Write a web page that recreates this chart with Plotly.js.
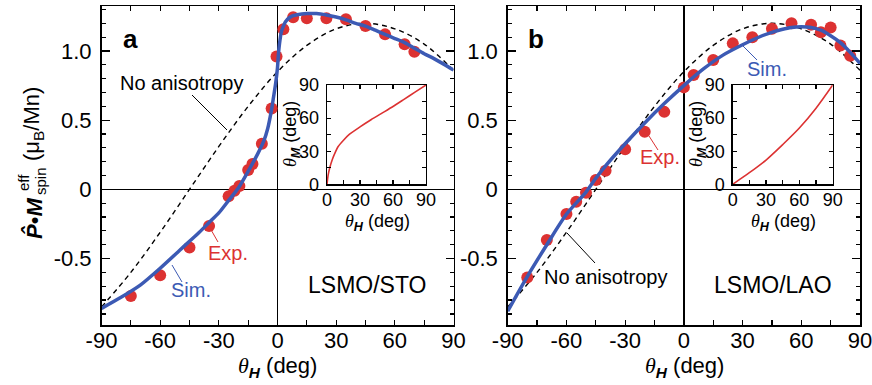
<!DOCTYPE html>
<html><head><meta charset="utf-8">
<script src="https://cdn.plot.ly/plotly-3.0.1.min.js"></script>
<style>html,body{margin:0;padding:0;background:#fff}#c{width:872px;height:385px}</style>
</head><body><div id="c"></div>
<script>
// ---- data ----
// Panel a (LSMO/STO)
const aExpX = [-75, -60, -45, -35, -25, -22, -19.5, -15, -12.8, -8, -3, -0.5, 3, 8, 15, 25, 35, 45, 55, 65, 70];
const aExpY = [-0.77, -0.62, -0.42, -0.265, -0.05, -0.01, 0.025, 0.14, 0.183, 0.33, 0.585, 0.96, 1.157, 1.243, 1.236, 1.236, 1.229, 1.18, 1.12, 1.048, 0.995];
const aSimX = [-90,-80,-70,-60,-50,-45,-40,-35,-30,-25,-20,-15,-10,-7,-5,-3,-2,-1,0,0.5,1,2,3,4,6,8,10,15,20,25,30,35,40,45,50,55,60,65,70,75,80,85,90];
const aSimY = [-0.86,-0.78,-0.69,-0.57,-0.44,-0.375,-0.31,-0.24,-0.17,-0.08,0.01,0.13,0.26,0.35,0.44,0.58,0.67,0.76,0.88,0.98,1.05,1.14,1.18,1.21,1.24,1.255,1.262,1.27,1.27,1.26,1.245,1.225,1.20,1.18,1.15,1.12,1.09,1.06,1.02,0.98,0.945,0.905,0.862];
// Panel b (LSMO/LAO)
const bExpX = [-80, -70, -60, -55, -50, -45, -40, -30, -20, -10, 0, 5, 15, 25, 35, 45, 55, 65, 70, 75, 80, 85];
const bExpY = [-0.636, -0.366, -0.178, -0.089, -0.024, 0.067, 0.135, 0.29, 0.417, 0.56, 0.737, 0.826, 0.935, 1.055, 1.10, 1.16, 1.20, 1.19, 1.135, 1.17, 1.04, 0.966];
const bSimX = [-90,-80,-70,-60,-50,-45,-40,-30,-20,-10,0,10,20,30,40,45,50,55,60,65,70,75,80,85,90];
const bSimY = [-0.88,-0.63,-0.40,-0.18,-0.02,0.08,0.17,0.33,0.48,0.62,0.75,0.87,0.97,1.045,1.11,1.135,1.155,1.17,1.175,1.17,1.15,1.11,1.06,0.99,0.91];
// "No anisotropy" curve (same in both panels)
const noAnisX = [-90,-75,-60,-45,-30,-15,0,15,30,45,60,75,90];
const noAnisY = [-0.85,-0.6,-0.31,0.0,0.31,0.6,0.85,1.04,1.16,1.2,1.16,1.05,0.86];
// Insets: theta_M vs theta_H
const aInX = [0,1,2.5,5,7.5,10,15,20,30,40,50,60,70,80,90];
const aInY = [0,8,15,23,29,34,40,45,52,58.5,64.5,70.5,77,83.5,90];
const bInX = [0,15,30,45,60,75,90];
const bInY = [0,10.5,22,36,51,69,90];
// Tick labels
const mainXTicks = [-90,-60,-30,0,30,60,90];
const mainXText = ['-90','-60','-30','0','30','60','90'];
const mainYTicks = [-0.5,0,0.5,1.0];
const mainYText = ['-0.5','0','0.5','1.0'];
const inTicks = [0,30,60,90];
const inText = ['0','30','60','90'];

// ---- style ----
const W = 872, H = 385;
const RED = '#dc3232', BLUE = '#3c5ab4';
const FONT = 'Liberation Sans, Arial, sans-serif';
const px = (x) => x / W;
const py = (y) => 1 - y / H;

function mainX(domain, anchor){
  return {domain, anchor, range:[-90,90], showline:true, linecolor:'#000', linewidth:1.5, mirror:'allticks',
    ticks:'inside', tickmode:'array', tickvals:mainXTicks, ticktext:mainXText, ticklen:5, tickwidth:1.2, tickcolor:'#000',
    minor:{tickmode:'linear', tick0:0, dtick:15, ticks:'inside', ticklen:5, tickwidth:1.2, tickcolor:'#000'},
    zeroline:true, zerolinecolor:'#000', zerolinewidth:1.5, showgrid:false, ticklabeloverflow:'allow',
    tickfont:{family:FONT, size:22, color:'#000'}, ticklabelstandoff:-5, fixedrange:true};
}
function mainY(anchor){
  return {domain:[1-325/H, 1-6/H], anchor, range:[-0.98,1.325], showline:true, linecolor:'#000', linewidth:1.5, mirror:'allticks',
    ticks:'inside', tickmode:'array', tickvals:mainYTicks, ticktext:mainYText, ticklen:8, tickwidth:1.2, tickcolor:'#000',
    minor:{tickmode:'linear', tick0:0, dtick:0.1, ticks:'inside', ticklen:4, tickwidth:1.2, tickcolor:'#000'},
    zeroline:true, zerolinecolor:'#000', zerolinewidth:1.5, showgrid:false, ticklabeloverflow:'allow',
    tickfont:{family:FONT, size:22, color:'#000'}, ticklabelstandoff:4, fixedrange:true};
}
function inAx(domain, anchor, standoff){
  return {domain, anchor, range:[0,90], showline:true, linecolor:'#000', linewidth:1.3, mirror:'allticks',
    ticks:'inside', tickmode:'array', tickvals:inTicks, ticktext:inText, ticklen:4, tickwidth:1.1, tickcolor:'#000',
    minor:{tickmode:'linear', tick0:0, dtick:15, ticks:'inside', ticklen:4, tickwidth:1.1, tickcolor:'#000'},
    zeroline:false, showgrid:false, tickfont:{family:FONT, size:18, color:'#000'}, ticklabelstandoff:standoff,
    ticklabeloverflow:'allow', fixedrange:true};
}

const dash = {color:'#000', width:1.4, dash:'5px,4px', shape:'spline', smoothing:1};
const traces = [
  {x:noAnisX, y:noAnisY, xaxis:'x', yaxis:'y', mode:'lines', line:dash},
  {x:aExpX, y:aExpY, xaxis:'x', yaxis:'y', mode:'markers', marker:{color:RED, size:12}},
  {x:aSimX, y:aSimY, xaxis:'x', yaxis:'y', mode:'lines', line:{color:BLUE, width:3.5, shape:'spline', smoothing:0.6}},
  {x:noAnisX, y:noAnisY, xaxis:'x2', yaxis:'y2', mode:'lines', line:dash},
  {x:bExpX, y:bExpY, xaxis:'x2', yaxis:'y2', mode:'markers', marker:{color:RED, size:12}},
  {x:bSimX, y:bSimY, xaxis:'x2', yaxis:'y2', mode:'lines', line:{color:BLUE, width:3.5, shape:'spline', smoothing:0.8}},
  {x:aInX, y:aInY, xaxis:'x3', yaxis:'y3', mode:'lines', line:{color:RED, width:1.6, shape:'spline', smoothing:0.6}},
  {x:bInX, y:bInY, xaxis:'x4', yaxis:'y4', mode:'lines', line:{color:RED, width:1.6, shape:'spline', smoothing:0.8}}
];

function txt(text, x, y, size, color, extra){
  return Object.assign({text, x:px(x), y:py(y), xref:'paper', yref:'paper', xanchor:'center', yanchor:'middle',
    showarrow:false, font:{family:FONT, size, color:color||'#000'}}, extra||{});
}
const theta = '<span style="font-family:Liberation Serif"><i>θ</i></span>';
const xTitle = theta + '<sub><b><i>H</i></b></sub> (deg)';
const mTitle = theta + '<sub><b><i>M</i></b></sub> (deg)';

const annotations = [
  txt('<b>a</b>', 130, 39, 26),
  txt('<b>b</b>', 536, 39, 26),
  txt('No anisotropy', 181, 83, 20),
  txt('Exp.', 228, 253, 20, RED),
  txt('Sim.', 191, 290, 20, BLUE),
  txt('LSMO/STO', 367, 285, 23),
  txt('Sim.', 767, 69, 20, BLUE),
  txt('Exp.', 660, 157, 20, RED),
  txt('No anisotropy', 605, 277, 20),
  txt('LSMO/LAO', 773, 285, 23),
  txt(xTitle, 277.5, 367, 22),
  txt(xTitle, 684, 367, 22),
  txt(xTitle, 377, 222, 18),
  txt(xTitle, 783, 222, 18),
  txt(mTitle, 291, 134, 18, null, {textangle:-90}),
  txt(mTitle, 697, 134, 18, null, {textangle:-90}),
  // main y title pieces
  txt('<b><i>P̂</i></b>•<b><i>M</i></b>', 34, 219, 22, null, {textangle:-90}),
  txt('eff', 23, 183, 15, null, {textangle:-90}),
  txt('spin', 40, 181, 15, null, {textangle:-90}),
  txt('(μ<sub>B</sub>/Mn)', 33, 124, 22, null, {textangle:-90})
];

function seg(x0,y0,x1,y1,color){
  return {type:'line', xref:'paper', yref:'paper', x0:px(x0), y0:py(y0), x1:px(x1), y1:py(y1), line:{color, width:1}};
}
const shapes = [
  seg(192,95,227,130,'#000'),
  seg(210,228,218,242,RED),
  seg(172,265,182,282,BLUE),
  seg(742,45,757,60,BLUE),
  seg(649,136,658,150,RED),
  seg(567,233,595,263,'#000')
];

const layout = {
  width:W, height:H, margin:{l:0,r:0,t:0,b:0}, showlegend:false,
  paper_bgcolor:'#fff', plot_bgcolor:'rgba(0,0,0,0)',
  xaxis: mainX([101.5/W, 453.5/W], 'y'),
  yaxis: mainY('x'),
  xaxis2: mainX([507.7/W, 860/W], 'y2'),
  yaxis2: mainY('x2'),
  xaxis3: inAx([327/W, 426/W], 'y3', -1),
  yaxis3: inAx([1-184.3/H, 1-85/H], 'x3', 3),
  xaxis4: inAx([732.7/W, 832.7/W], 'y4', -1),
  yaxis4: inAx([1-184.3/H, 1-85/H], 'x4', 3),
  annotations, shapes
};
Plotly.newPlot('c', traces, layout, {staticPlot:true, displayModeBar:false});
</script></body></html>
